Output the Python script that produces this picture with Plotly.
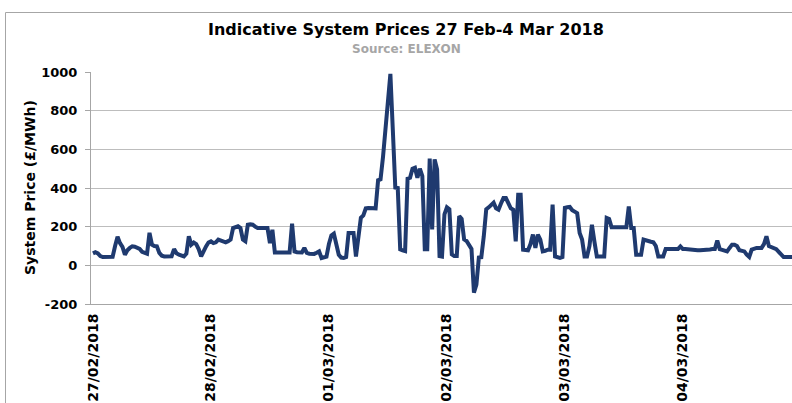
import plotly.graph_objects as go

# Half-hourly indicative system prices (GBP/MWh), 27 Feb - 4 Mar 2018
day_27_02 = [62, 68, 62, 48, 43, 43, 43, 43, 44, 100, 148, 115, 95, 55, 78, 90,
             98, 96, 92, 85, 70, 65, 60, 168, 107, 100, 98, 64, 50, 46, 46, 46,
             47, 84, 62, 55, 48, 46, 60, 150, 107, 118, 110, 84, 46, 75, 98, 118]
day_28_02 = [124, 115, 119, 133, 128, 124, 119, 125, 133, 193, 200, 202, 193, 133, 124, 210,
             212, 210, 200, 193, 193, 193, 193, 193, 115, 184, 67, 67, 67, 67, 67, 67,
             67, 215, 72, 68, 67, 67, 90, 64, 60, 59, 59, 65, 72, 38, 40, 45]
day_01_03 = [110, 155, 164, 110, 55, 40, 38, 43, 167, 167, 167, 46, 167, 246, 258, 295,
             297, 297, 297, 295, 440, 445, 560, 700, 830, 990, 700, 402, 400, 83, 78, 74,
             448, 453, 500, 505, 453, 500, 462, 83, 83, 552, 186, 548, 497, 48, 45, 264]
day_02_03 = [300, 290, 57, 48, 48, 255, 240, 134, 126, 100, 85, -141, -100, 40, 42, 150,
             290, 300, 316, 324, 295, 288, 320, 348, 348, 320, 295, 288, 124, 365, 365, 81,
             80, 78, 110, 159, 90, 159, 133, 72, 75, 81, 81, 314, 46, 40, 38, 43]
day_03_03 = [297, 300, 302, 285, 275, 270, 167, 133, 46, 46, 100, 210, 124, 46, 46, 46,
             46, 245, 240, 197, 197, 197, 197, 197, 197, 197, 305, 193, 193, 55, 55, 55,
             133, 128, 124, 122, 119, 100, 46, 46, 46, 84, 84, 84, 84, 84, 84, 98]
day_04_03 = [84, 84, 82, 80, 78, 78, 78, 78, 78, 78, 80, 82, 84, 84, 128, 84,
             80, 78, 72, 90, 107, 107, 100, 78, 75, 72, 55, 43, 81, 86, 90, 90,
             90, 110, 150, 100, 95, 90, 84, 70, 55, 43, 43, 43, 43, 43, 43, 43]

day_labels = ["27/02/2018", "28/02/2018", "01/03/2018", "02/03/2018", "03/03/2018", "04/03/2018"]
y_ticks = [-200, 0, 200, 400, 600, 800, 1000]

days = [day_27_02, day_28_02, day_01_03, day_02_03, day_03_03, day_04_03]
prices = [v for d in days for v in d]
periods = list(range(len(prices)))
day_starts = [i * len(day_27_02) for i in range(len(days))]

FONT = "DejaVu Sans"
W, H = 792, 403
L, T, B = 91, 72, 99
plot_w = W - L
plot_h = H - T - B

def px_x(px):
    return (px - L) / plot_w

def px_y(py):
    return (H - B - py) / plot_h

fig = go.Figure()
fig.add_trace(go.Scatter(
    x=periods, y=prices, mode="lines",
    line=dict(color="#1F3A6F", width=4),
    hoverinfo="skip", showlegend=False,
))

fig.update_layout(
    width=W, height=H,
    margin=dict(l=L, r=0, t=T, b=B, pad=0, autoexpand=False),
    paper_bgcolor="white", plot_bgcolor="white",
    font=dict(family=FONT, size=12, color="black"),
    showlegend=False,
)

fig.update_xaxes(
    range=[-0.8, 284.4], automargin=False,
    tickvals=day_starts, ticktext=[f"<b>{t}</b>" for t in day_labels],
    tickangle=-90, tickfont=dict(family=FONT, size=14, color="black"),
    ticklabelstandoff=3,
    showgrid=False, zeroline=False,
    showline=True, linecolor="#A6A6A6", linewidth=1,
    ticks="", fixedrange=True,
)
fig.update_yaxes(
    range=[-200, 1000], automargin=False,
    tickvals=y_ticks, ticktext=[f"<b>{v}</b>" for v in y_ticks],
    tickfont=dict(family=FONT, size=13, color="black"),
    ticklabelstandoff=5,
    showgrid=True, gridcolor="#BDBDBD", gridwidth=1,
    zeroline=False,
    showline=True, linecolor="#A6A6A6", linewidth=1,
    ticks="outside", ticklen=5, tickcolor="#A6A6A6",
    fixedrange=True,
)

# Title and subtitle
fig.add_annotation(
    text="<b>Indicative System Prices 27 Feb-4 Mar 2018</b>",
    xref="paper", yref="paper", x=px_x(406), y=px_y(30),
    xanchor="center", yanchor="middle", showarrow=False,
    font=dict(family=FONT, size=16, color="black"),
)
fig.add_annotation(
    text="<b>Source: ELEXON</b>",
    xref="paper", yref="paper", x=px_x(406), y=px_y(48.5),
    xanchor="center", yanchor="middle", showarrow=False,
    font=dict(family=FONT, size=12, color="#A6A6A6"),
)
# Y axis title
fig.add_annotation(
    text="<b>System Price (£/MWh)</b>",
    xref="paper", yref="paper", x=px_x(30), y=0.5,
    xanchor="center", yanchor="middle", showarrow=False, textangle=-90,
    font=dict(family=FONT, size=14, color="black"),
)

# Outer chart border (extends beyond the visible crop)
fig.add_shape(
    type="rect", xref="paper", yref="paper",
    x0=px_x(5.5), y0=px_y(H + 20), x1=px_x(W + 20), y1=px_y(12.5),
    line=dict(color="#A6A6A6", width=1), fillcolor="rgba(0,0,0,0)", layer="below",
)

# remove the default page margin so the figure sits at the window's top-left corner
fig.write_html(
    "out.html",
    config={"displayModeBar": False, "staticPlot": True},
    post_script="document.body.style.margin='0';document.body.style.overflow='hidden';",
)
